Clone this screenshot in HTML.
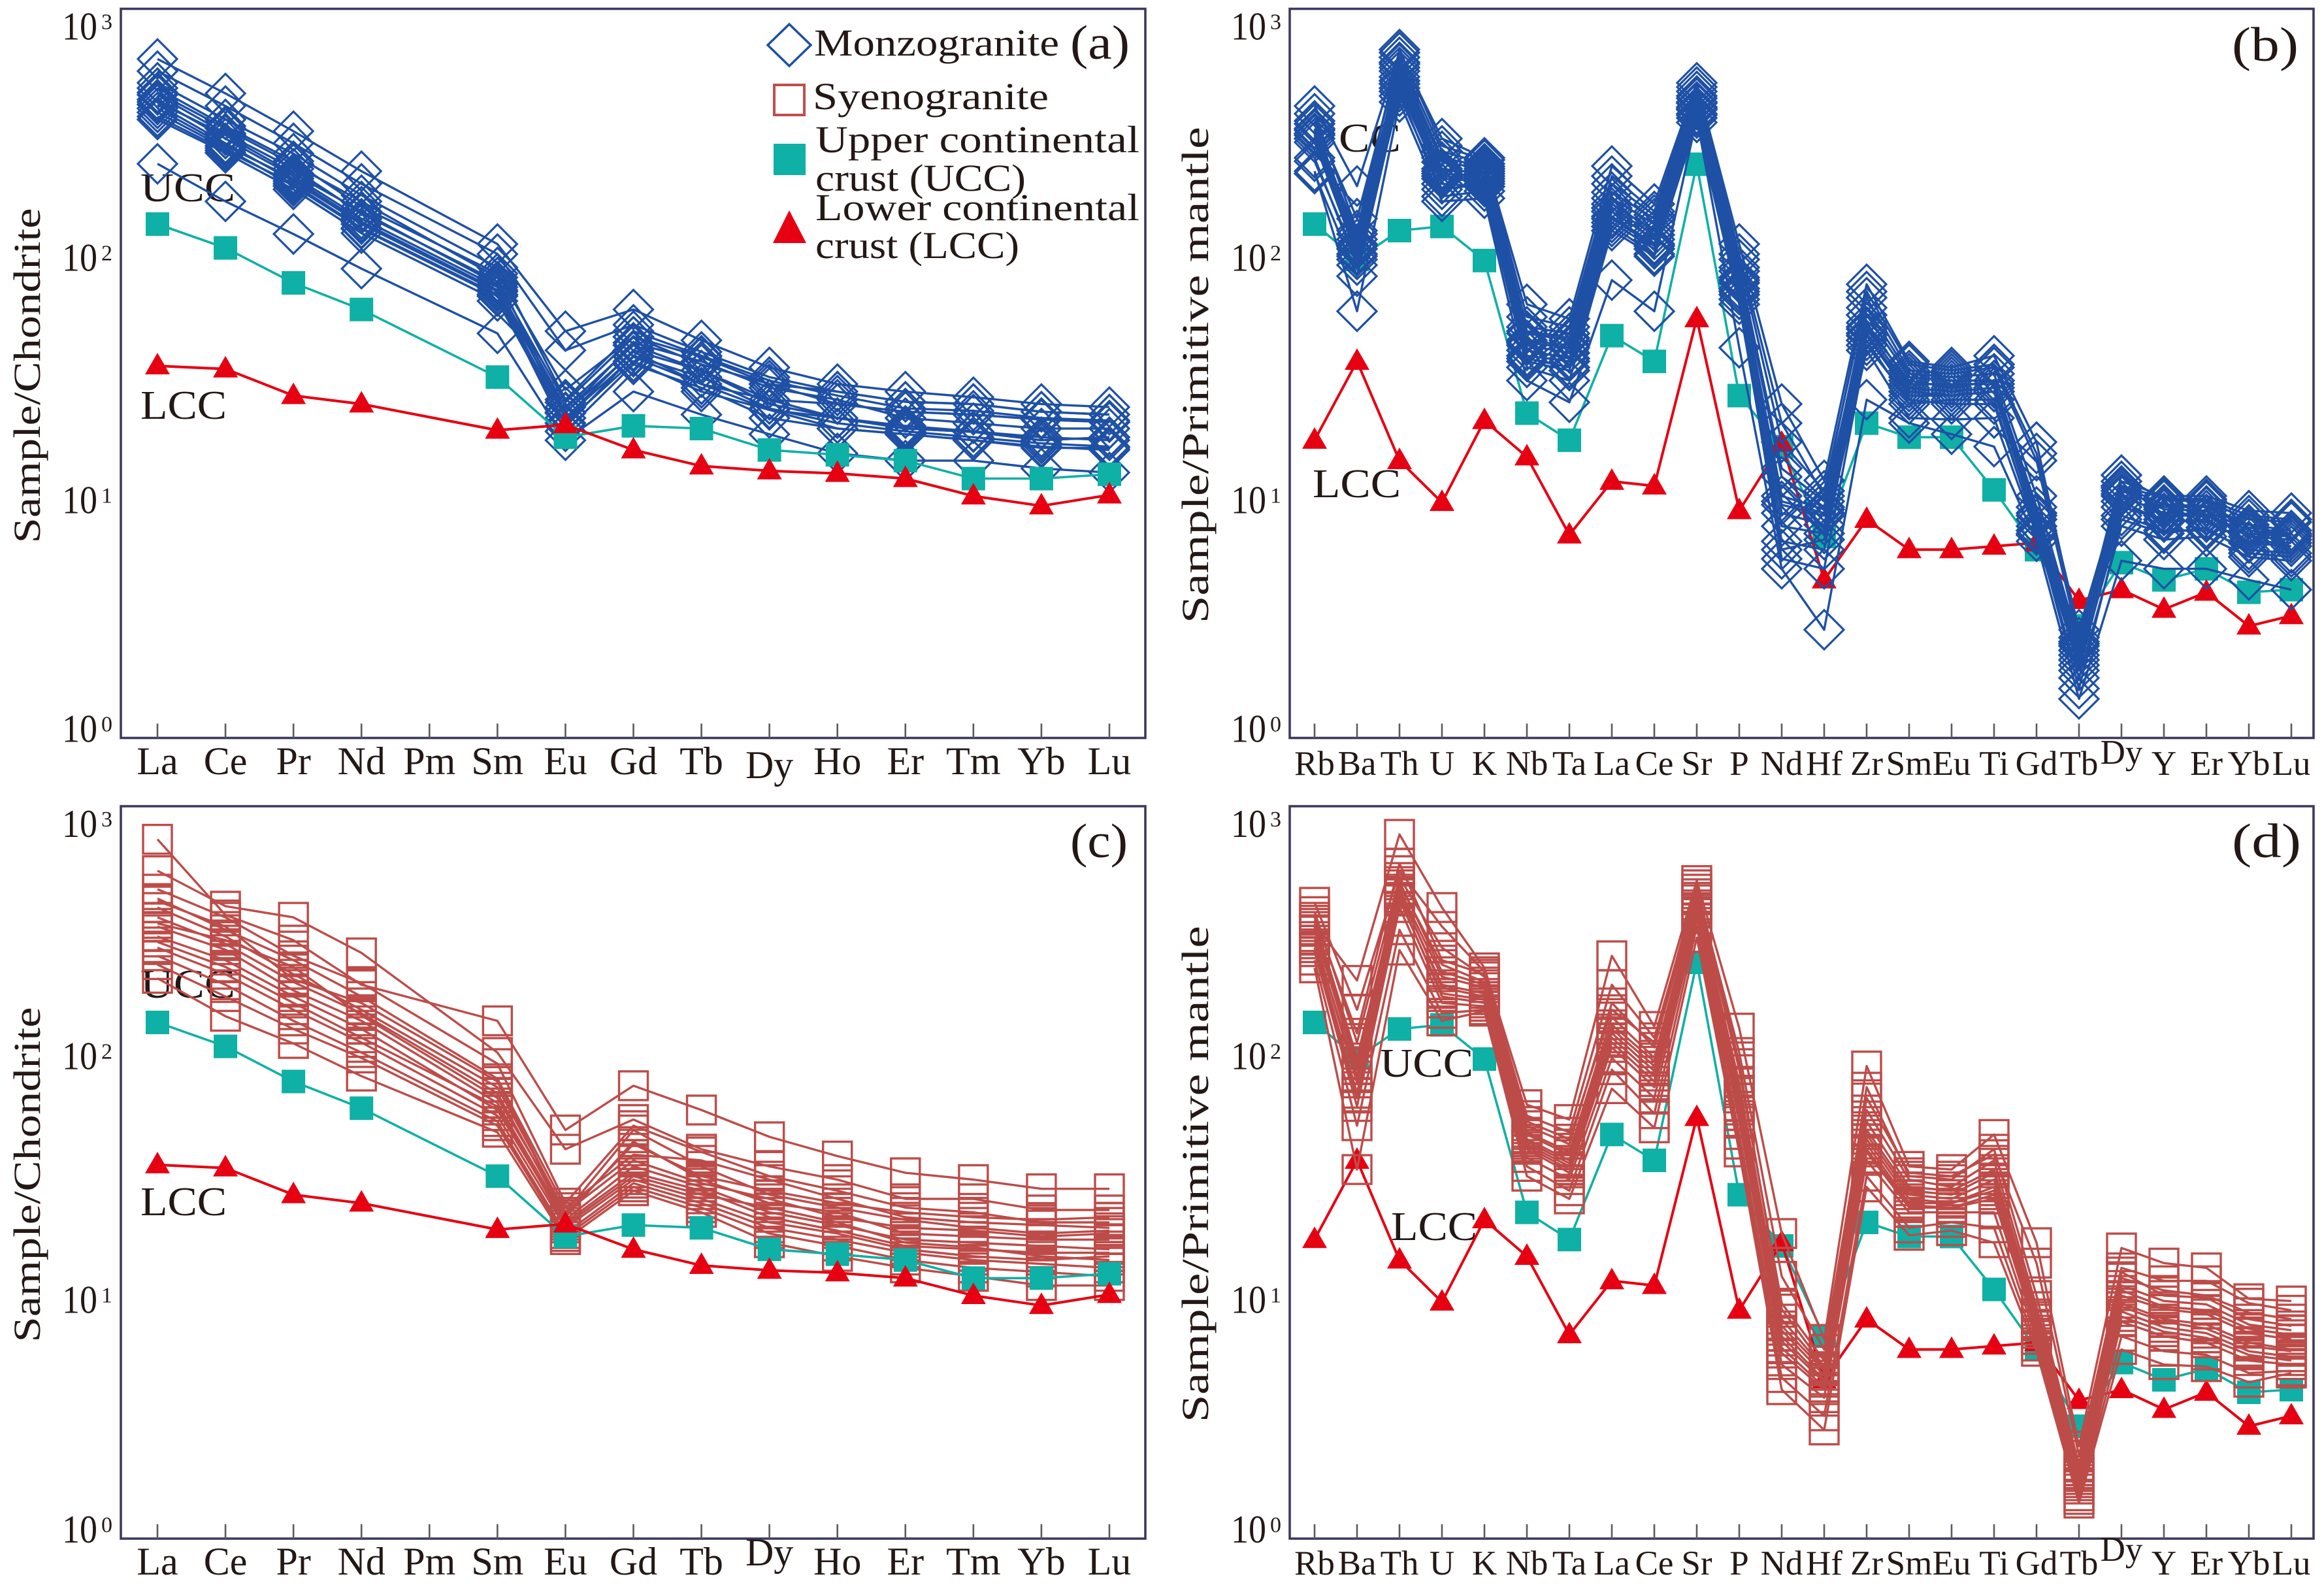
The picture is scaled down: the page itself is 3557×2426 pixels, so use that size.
<!DOCTYPE html>
<html lang="en">
<head>
<meta charset="utf-8">
<title>REE and trace element spider diagrams</title>
<style>
html,body{margin:0;padding:0;background:#fff;}
svg{display:block;}
text{font-family:"Liberation Serif",serif;fill:#231815;}
</style>
</head>
<body>
<svg id="figure" xmlns="http://www.w3.org/2000/svg" width="3557" height="2426" viewBox="0 0 3557 2426">
<rect x="0" y="0" width="3557" height="2426" fill="#ffffff"/>
<g id="plots"></g>

<g font-size="58">
<text transform="translate(61,575) rotate(-90)" text-anchor="middle" textLength="513" lengthAdjust="spacingAndGlyphs">Sample/Chondrite</text>
<text transform="translate(1849,574) rotate(-90)" text-anchor="middle" textLength="760" lengthAdjust="spacingAndGlyphs">Sample/Primitive mantle</text>
<text transform="translate(61,1798) rotate(-90)" text-anchor="middle" textLength="513" lengthAdjust="spacingAndGlyphs">Sample/Chondrite</text>
<text transform="translate(1849,1797) rotate(-90)" text-anchor="middle" textLength="760" lengthAdjust="spacingAndGlyphs">Sample/Primitive mantle</text>
</g>

<g font-size="74">
<text x="1638" y="90" textLength="91" lengthAdjust="spacingAndGlyphs">(a)</text>
<text x="3416" y="93" textLength="102" lengthAdjust="spacingAndGlyphs">(b)</text>
<text x="1638" y="1312" textLength="88" lengthAdjust="spacingAndGlyphs">(c)</text>
<text x="3416" y="1312" textLength="106" lengthAdjust="spacingAndGlyphs">(d)</text>
</g>

<g font-size="58">
<polygon points="1208,37 1241,69 1208,101 1175,69" fill="none" stroke="#1e50a5" stroke-width="3.5"/>
<text x="1246" y="85" textLength="375" lengthAdjust="spacingAndGlyphs">Monzogranite</text>
<rect x="1185" y="130" width="46" height="46" fill="none" stroke="#bf4f4c" stroke-width="4"/>
<text x="1244" y="167" textLength="361" lengthAdjust="spacingAndGlyphs">Syenogranite</text>
<rect x="1184" y="220" width="49" height="48" fill="#0fb0a5"/>
<text x="1248" y="233" textLength="496" lengthAdjust="spacingAndGlyphs">Upper continental</text>
<text x="1248" y="292" textLength="322" lengthAdjust="spacingAndGlyphs">crust (UCC)</text>
<polygon points="1208,322 1234,372 1183,372" fill="#e60012"/>
<text x="1248" y="337" textLength="496" lengthAdjust="spacingAndGlyphs">Lower continental</text>
<text x="1248" y="395" textLength="312" lengthAdjust="spacingAndGlyphs">crust (LCC)</text>
</g>
</svg>

<script>
// ---------- categories ----------
const reeElements = ["La","Ce","Pr","Nd","Pm","Sm","Eu","Gd","Tb","Dy","Ho","Er","Tm","Yb","Lu"];
const reeMeasured = ["La","Ce","Pr","Nd","Sm","Eu","Gd","Tb","Dy","Ho","Er","Tm","Yb","Lu"];
const traceElements = ["Rb","Ba","Th","U","K","Nb","Ta","La","Ce","Sr","P","Nd","Hf","Zr","Sm","Eu","Ti","Gd","Tb","Dy","Y","Er","Yb","Lu"];
const decadeTicks = [0,1,2,3];

// ---------- reference crust ----------
const uccChondrite = [133,106,76,59,31,17.5,19.5,19,15.5,14.8,14,11.8,11.8,12.3];
const lccChondrite = [34.5,33.5,26,24,18.7,19.7,15.5,13.3,12.7,12.4,11.8,10,9.1,10.1];
const uccMantle = [133,95,125,130,94,22,17,46,36,235,26,16,6.8,20,17.5,17.5,10.6,6,2.9,5.3,4.5,5,4,4.1];
const lccMantle = [17,36,14,9.4,20.5,14.5,6.9,11.5,11,54,8.7,16.5,4.5,8,6,6,6.2,6.4,3.7,4.1,3.4,4,2.9,3.2];

// ---------- panel (a) monzogranite, chondrite-normalised ----------
const monzoReeSamples = [
[640,461,322,220,110,48,59,44,34,29,27,25.6,24,23.3],
[570,409,287,195,100,40,51,39.4,31,27,24.5,24,22.3,21.7],
[510,360,260,175,88,25,48,38,30,26,23,22.5,21,20.5],
[485,338,242,157,83,27.5,45.5,37.6,29,27,24.5,24,22.3,21.7],
[465,330,235,165,80,22,43,36,28,25,21,20,19,19],
[455,315,225,147,77,24.4,45.5,35,29,24,22.3,21.7,20.7,20.2],
[435,300,210,140,73,23.3,42,33,25,24,22.3,21.7,20.7,20.2],
[425,310,215,150,75,21,40,33,24,21,19.5,18.5,17.5,17],
[415,287,200,133,70,22.2,39.4,29,25,21,19,18.4,17,17.5],
[400,280,205,136,71,19.5,38,31,23,20,18.5,17.5,16.5,16],
[385,274,191,127,67,21,37.6,29,22.7,21,19,18.4,17,17.5],
[370,268,195,128,68,18.5,35,28,21,19,18,17,16,15.5],
[360,262,185,122,64,20,36,27,22.7,19,18,17,15.8,15.8],
[236,165,121,87,47,17,27,21.7,18,15,14,14,13,12.5]
];

// ---------- panel (b) monzogranite, primitive-mantle-normalised ----------
const monzoTraceSamples = [
[409,191,680,300,250,62,54,231,161,510,110,24,11.6,75,36,34,38,16.7,2.6,11.5,10,10,8.7,8.5],
[380,125,700,280,245,55,50,210,150,490,100,20,10,70,35,33,35,15,2.8,11,9.8,9.7,8.3,8],
[355,140,650,266,236,50,47,195,145,470,95,16.7,10.5,66,33,32,34,14,2.5,12.2,9.6,9.5,8,7.8],
[345,115,620,250,230,48,45,180,140,450,85,12,9,60,32,31,32,10,2.45,10.5,9,9,7.4,7],
[330,121,610,240,225,47,44,170,133,440,88,13,9.5,56,31,30,30,9,2.4,11,9.2,9.1,7.6,7.2],
[325,110,590,225,215,44,42,161,125,420,80,10,8.8,52,29,29,29,8.3,2.3,10.8,8.8,8.7,7.2,6.9],
[315,105,540,215,210,42,39,150,115,405,76,9.2,8.3,49,28,27,28,8,2.2,10.2,8.3,8.3,6.8,6.6],
[310,108,570,220,220,43,41,155,120,425,78,9.5,8.5,50,30,28,30,8.5,2.3,10,8.5,8.4,7,6.8],
[300,100,505,205,200,40,37,143,110,395,72,8.5,7.6,46,26,26,27,7.5,2.1,9.5,7.8,8,6.4,6.2],
[290,98,520,210,205,38,36,140,108,400,70,6.5,6,47,27,26,27,8,1.9,9,8,7.8,6.5,6.4],
[250,90,450,185,195,36,33,130,100,380,65,5.5,5,42,25,24,24,7.2,1.6,8,7,7.4,5.8,5.6],
[242,95,485,195,190,37,34,135,105,375,68,7.5,7,44,24,25,25,7,2,8.3,7.2,7.2,6,5.8],
[215,81,470,173,182,34,30,125,98,350,62,6,6.6,40,21,20.7,21,6.9,1.77,7.5,6.6,6.8,5.6,5.4],
[220,58,425,165,170,30,24.4,78,58,365,41,5,2.8,25,20,18,16,6.5,1.45,5.4,5,5,4.5,4.1]
];

// ---------- panel (c) syenogranite, chondrite-normalised ----------
const syenoReeSamples = [
[754,368,290,190,135,48,73,58,45,37.5,32,30,27.5,27.5],
[560,400,360,257,100,40,53,40,34,30,25,25,22.5,22.5],
[470,360,250,193,90,24,50,39,31,27,23,22,20,20],
[430,320,240,170,78,23,38,36,30,25,21,20,19.5,19],
[420,330,200,160,76,21.5,42,31,27,24,22,21,20.5,21],
[395,300,210,150,72,22,48,34,26,23,20.5,19,18,18.5],
[360,280,195,145,68,21,43,30,24,22,18,17.5,17,17],
[340,290,225,142,65,22,36,29,25,21,19,18.5,17.5,18],
[330,265,180,135,62,20.5,34,28,22,19.5,17,16.5,16,15.5],
[300,240,170,125,58,20,32,27,21,18.5,16,15.5,15,15],
[285,225,160,115,60,19.5,31,26,23,20,16.5,15.8,14.5,14],
[270,210,150,110,55,19,30,25,20,18,15.5,14.5,14,14.5],
[250,190,135,100,52,18,29,24,19,17,15,14,13.5,13],
[230,170,125,95,50,17.5,28,23,18,16,14,13,12.5,12],
[202,141,109,80,47,17,27,22,16.5,14.5,13,12,11,11]
];

// ---------- panel (d) syenogranite, primitive-mantle-normalised ----------
const syenoTraceSamples = [
[340,198,790,395,223,61,53,250,128,510,126,18,6.6,88,34,33,46,16.5,2.4,15.7,13.6,13,9.7,9.5],
[415,150,560,330,215,55,47,190,115,470,100,12,6,65,32,31,38,13.6,2.2,13,11.5,11.5,9.3,8.7],
[380,110,525,270,205,50,42,160,105,450,85,9.3,5.4,58,30,28,36,9,2,11.8,10.5,10,8.5,8],
[360,120,600,240,210,52,44,150,110,490,90,8.8,5.1,72,31,30,40,10,2,12.5,10,9.8,8,7.5],
[350,95,490,230,195,47,39,140,95,425,75,8,5,52,28,27,33,8.4,1.9,11,9.5,9.2,7.6,7.2],
[330,90,505,215,190,46,38,130,92,435,70,7.5,4.9,48,27,26,32,8.2,1.85,10.5,9,8.7,7.3,6.9],
[320,85,470,205,185,44,36,125,88,405,65,7.2,4.7,46,26,25,30,8,1.8,10,8.8,8.4,7,6.6],
[300,75,450,190,175,42,34,115,80,390,58,6.5,4.4,42,24,24,27,7.5,1.7,9.3,8,7.6,6.4,6],
[290,80,460,185,170,43,35,120,84,395,60,6.8,4.5,44,25,24,28,7.6,1.75,9,7.8,7.3,6.2,5.9],
[280,68,425,175,165,40,32,105,72,375,52,5.8,4.1,39,23,23,25,7,1.6,8.6,7.4,7,5.9,5.6],
[270,65,435,170,160,41,33,110,76,380,55,6.1,4.2,40,23.5,23,26,7.2,1.65,8.2,7.1,6.7,5.7,5.4],
[260,60,395,160,155,37,30,95,65,355,46,5.2,3.8,36,22,22,22,6.6,1.5,7.8,6.8,6.4,5.4,5.2],
[240,50,320,145,150,34,27,85,56,330,42,4.6,3.2,31,19,20,19,6.2,1.45,6.8,5.9,5.7,4.8,4.9],
[223,33,264,135,148,31,25,71,49,297,39,4.1,2.8,28,17.7,18.5,16.5,5.9,1.4,6,5.2,5.1,4.4,4.8]
];

// ---------- drawing ----------
const NS = "http://www.w3.org/2000/svg";
const plots = document.getElementById("plots");
const BLUE = "#1e50a5", BRICK = "#bd4c49", TEAL = "#0fb0a5", RED = "#e60012";

function node(tag, parent, attrs){
  const el = document.createElementNS(NS, tag);
  for (const k in attrs) el.setAttribute(k, attrs[k]);
  parent.appendChild(el);
  return el;
}

function marker(kind, parent, x, y, color){
  let m;
  if (kind === "diamond") {
    m = node("polygon", parent, {points:`${x},${y-30} ${x+30},${y} ${x},${y+30} ${x-30},${y}`, fill:"none", stroke:color, "stroke-width":3.2});
  } else if (kind === "open-square") {
    m = node("rect", parent, {x:x-22, y:y-22, width:44, height:44, fill:"none", stroke:color, "stroke-width":3.4});
  } else if (kind === "solid-square") {
    m = node("rect", parent, {x:x-18, y:y-18, width:36, height:36, fill:color});
  } else {
    m = node("polygon", parent, {points:`${x},${y-20} ${x+19},${y+13} ${x-19},${y+13}`, fill:color});
  }
  return m;
}

function drawSeries(parent, keys, values, xOf, yOf, kind, color, width, name){
  const g = node("g", parent, {});
  
  
  const pts = keys.map((k,i)=>xOf(k).toFixed(1)+","+yOf(values[i]).toFixed(1)).join(" ");
  const line = node("polyline", g, {points:pts, fill:"none", stroke:color, "stroke-width":width, "stroke-linejoin":"round"});
  
  
  keys.forEach((k,i)=>{
    const m = marker(kind, g, xOf(k), yOf(values[i]), color);
    
    
  });
}

function drawPanel(p){
  const g = node("g", plots, {});
  
  

  const xPos = {};
  p.categories.forEach((c,i)=>{ xPos[c] = p.x0 + i*p.step; });
  const xOf = c => xPos[c];
  const dataTop = p.top + 5;
  const yOf = v => p.bottom - Math.log10(v)*(p.bottom-dataTop)/3;
  const labelY = d => p.bottom - d*(p.bottom-p.top)/3;

  // reference labels (sit beneath the data)
  const uccT = node("text", g, {x:p.uccX, y:p.uccY, "font-size":62, textLength:p.uccW, lengthAdjust:"spacingAndGlyphs"});
  uccT.textContent = p.uccText;
  
  
  const lccT = node("text", g, {x:p.lccX, y:p.lccY, "font-size":62, textLength:p.lccW, lengthAdjust:"spacingAndGlyphs"});
  lccT.textContent = "LCC";
  
  

  const drawRefs = () => {
    drawSeries(g, p.keys, p.ucc, xOf, yOf, "solid-square", TEAL, 3.6, 'ucc-series-' + p.id);
    drawSeries(g, p.keys, p.lcc, xOf, yOf, "triangle", RED, 4, 'lcc-series-' + p.id);
  };
  if (p.refsBelow) drawRefs();
  p.samples.forEach((s,i)=>{
    drawSeries(g, p.keys, s, xOf, yOf, p.kind, p.color, 3.4, 'sample-' + p.id + '-' + (i+1));
  });
  if (!p.refsBelow) drawRefs();

  // axis frame
  const frame = node("rect", g, {x:p.left, y:p.top, width:p.right-p.left, height:p.bottom-p.top, fill:"none", stroke:"#3d3a5e", "stroke-width":3.6});
  
  

  // x ticks and labels
  p.categories.forEach((c,i)=>{
    const x = xOf(c);
    const tick = node("line", g, {x1:x, x2:x, y1:p.bottom-22, y2:p.bottom, stroke:"#5a5a62", "stroke-width":2.6});
    
    
    const by = c === "Dy" ? p.dyBase : p.labelBase;
    const t = node("text", g, {x:x, y:by, "text-anchor":"middle", "font-size":p.labelSize});
    t.textContent = c;
    
    
  });

  // y tick labels
  const yOffsets = {0:6, 1:28, 2:29, 3:47};
  decadeTicks.forEach(d=>{
    const y = labelY(d) + yOffsets[d];
    const t = node("text", g, {x:p.left-90, y:y, "font-size":60, textLength:54, lengthAdjust:"spacingAndGlyphs"});
    t.textContent = "10";
    
    
    const e = node("text", g, {x:p.left-30, y:y-16, "font-size":34});
    e.textContent = String(d);
    
    
  });
}

drawPanel({id:"a", left:185, right:1753, top:13.5, bottom:1129.5, x0:241, step:104.07, categories:reeElements, keys:reeMeasured,
  samples:monzoReeSamples, ucc:uccChondrite, lcc:lccChondrite, kind:"diamond", color:BLUE, refsBelow:false,
  labelSize:60, labelBase:1185, dyBase:1191, uccText:"UCC", uccX:215, uccY:308, uccW:145, lccX:215, lccY:641, lccW:132});

drawPanel({id:"b", left:1974, right:3541, top:13.5, bottom:1129.5, x0:2012, step:65, categories:traceElements, keys:traceElements,
  samples:monzoTraceSamples, ucc:uccMantle, lcc:lccMantle, kind:"diamond", color:BLUE, refsBelow:true,
  labelSize:53, labelBase:1186, dyBase:1169, uccText:"CC", uccX:2049, uccY:232, uccW:95, lccX:2009, lccY:761, lccW:135});

drawPanel({id:"c", left:185, right:1753, top:1234, bottom:2355, x0:241, step:104.07, categories:reeElements, keys:reeMeasured,
  samples:syenoReeSamples, ucc:uccChondrite, lcc:lccChondrite, kind:"open-square", color:BRICK, refsBelow:false,
  labelSize:60, labelBase:2410, dyBase:2396, uccText:"UCC", uccX:215, uccY:1527, uccW:145, lccX:215, lccY:1860, lccW:132});

drawPanel({id:"d", left:1974, right:3541, top:1234, bottom:2355, x0:2012, step:65, categories:traceElements, keys:traceElements,
  samples:syenoTraceSamples, ucc:uccMantle, lcc:lccMantle, kind:"open-square", color:BRICK, refsBelow:true,
  labelSize:53, labelBase:2410, dyBase:2389, uccText:"UCC", uccX:2112, uccY:1648, uccW:143, lccX:2129, lccY:1898, lccW:132});
</script>
</body>
</html>
